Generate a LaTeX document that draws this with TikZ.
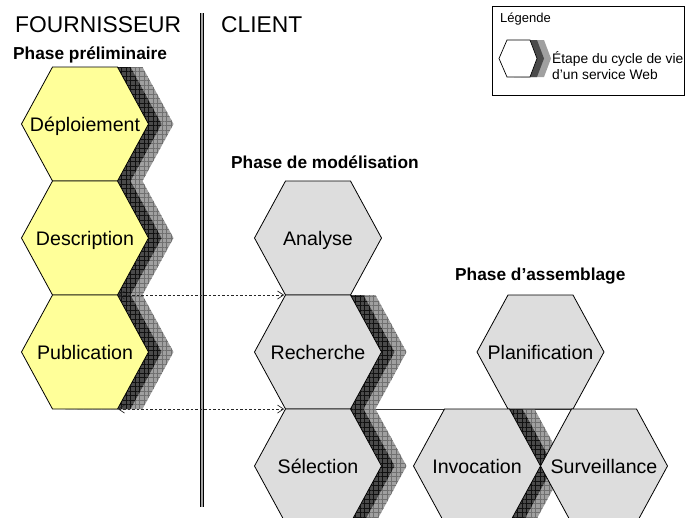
\documentclass[tikz,border=0pt]{standalone}
\usepackage{fontspec}
\setmainfont{Liberation Sans}
\usetikzlibrary{patterns.meta}
\definecolor{hexyellow}{HTML}{FFFF99}
\definecolor{hexgray}{HTML}{DDDDDD}
\definecolor{shdark}{HTML}{4A4A4A}
\definecolor{shdarkgrid}{HTML}{111111}
\definecolor{shlight}{HTML}{A0A0A0}
\definecolor{shlightgrid}{HTML}{707070}
\pgfdeclarelayer{background}
\pgfsetlayers{background,main}
% hexagon outline centred at (#1,#2)
\newcommand\hexpath[2]{(#1-63.5,#2) -- (#1-32.5,#2-57) -- (#1+32.5,#2-57) -- (#1+63.5,#2) -- (#1+32.5,#2+57) -- (#1-32.5,#2+57) -- cycle}
\newcommand\hexshadow[2]{%
  \path[shadowlight] \hexpath{#1+25}{#2};
  \path[shadowdark] \hexpath{#1+13}{#2};}
% style, name, x, y, label
\newcommand\hexnode[5]{%
  \draw[#1] \hexpath{#3}{#4};
  \node[hexlabel] (#2) at (#3,#4) {#5};
  \coordinate (#2-tl) at (#3-32.5,#4-57);
  \coordinate (#2-tr) at (#3+32.5,#4-57);
  \coordinate (#2-bl) at (#3-32.5,#4+57);
  \coordinate (#2-br) at (#3+32.5,#4+57);}
\begin{document}
\begin{tikzpicture}[x=1pt,y=-1pt,
  yellowhex/.style={draw=black,line width=0.8pt,fill=hexyellow,line join=miter},
  grayhex/.style={draw=black,line width=0.8pt,fill=hexgray,line join=miter},
  shadowdark/.style={fill=shdark,postaction={pattern={Hatch[distance=4.5pt,angle=0,line width=0.45pt]},pattern color=shdarkgrid}},
  shadowlight/.style={fill=shlight,postaction={pattern={Hatch[distance=4.5pt,angle=0,line width=0.45pt]},pattern color=shlightgrid}},
  hexlabel/.style={inner sep=0pt,text height=14pt,text depth=0pt,font=\fontsize{19.6}{22}\selectfont},
  phaselabel/.style={anchor=base west,inner sep=0pt,font=\fontsize{17.3}{20}\selectfont\bfseries},
  sidelabel/.style={anchor=base west,inner sep=0pt,font=\fontsize{22.8}{26}\selectfont},
  legendtext/.style={anchor=base west,inner sep=0pt,font=\fontsize{13.8}{16}\selectfont},
  dashline/.style={draw=black!85,line width=0.6pt,dash pattern=on 2.5pt off 2pt},
  tipline/.style={draw=black!85,line width=0.7pt,solid,line join=miter},
  thinline/.style={draw=black!80,line width=0.7pt}]
\useasboundingbox (0,0) rectangle (685,517);
\clip (0,0) rectangle (685,517);

% shadows
\hexshadow{85}{124}
\hexshadow{85}{238}
\hexshadow{85}{352}
\hexshadow{318}{352}
\hexshadow{318}{466}
\hexshadow{477}{466}

% hexagons
\hexnode{yellowhex}{depl}{85}{124}{Déploiement}
\hexnode{yellowhex}{desc}{85}{238}{Description}
\hexnode{yellowhex}{pub}{85}{352}{Publication}
\hexnode{grayhex}{ana}{318}{238}{Analyse}
\hexnode{grayhex}{rec}{318}{352}{Recherche}
\hexnode{grayhex}{sel}{318}{466}{Sélection}
\hexnode{grayhex}{plan}{540.5}{352}{Planification}
\hexnode{grayhex}{inv}{477}{466}{Invocation}
\hexnode{grayhex}{surv}{604}{466}{Surveillance}

\begin{pgfonlayer}{background}
  \draw[thinline] (rec-br) -- (surv-tr);
\end{pgfonlayer}

% divider
\coordinate (divtop) at (202,13);
\coordinate (divbot) at (202,507);
\draw[line width=0.9pt,double=black!35,double distance=1.6pt] (divtop) -- (divbot);

% exchanges (double-headed dashed arrows, open heads)
\coordinate (a1l) at ([shift={(1,0)}]pub-tr);
\coordinate (a1r) at ([shift={(-2,0)}]rec-tl);
\coordinate (a2l) at ([shift={(1,0)}]pub-br);
\coordinate (a2r) at ([shift={(-2,0)}]sel-tl);
\draw[dashline] (a1l) -- (a1r);
\draw[dashline] (a2l) -- (a2r);
\draw[tipline] ([shift={(-6,-4)}]a1r) -- (a1r) -- ([shift={(-6,4)}]a1r);
\draw[tipline] ([shift={(6,-4)}]a1l) -- (a1l) -- ([shift={(6,4)}]a1l);
\draw[tipline] ([shift={(-6,-4)}]a2r) -- (a2r) -- ([shift={(-6,4)}]a2r);
\draw[tipline] ([shift={(6,-4)}]a2l) -- (a2l) -- ([shift={(6,4)}]a2l);

% labels
\node[sidelabel] (four) at (15,32) {FOURNISSEUR};
\node[sidelabel] (cli) at (221,32) {CLIENT};
\node[phaselabel] (pprel) at (13,59.5) {Phase préliminaire};
\node[phaselabel] (pmod) at (231,168) {Phase de modélisation};
\node[phaselabel] (pass) at (455,280.5) {Phase d’assemblage};

% legend
\node[draw=black,line width=0.7pt,minimum width=192pt,minimum height=89pt,anchor=north west,inner sep=0pt] (legbox) at (491.5,5.5) {};
\node[legendtext,font=\fontsize{13}{15}\selectfont] (legtitle) at (500,22) {Légende};
\path[fill=shlight] (499+14,58.5) -- (507+14,40) -- (530+14,40) -- (537+14,58.5) -- (530+14,77) -- (507+14,77) -- cycle;
\path[fill=shdark] (499+7,58.5) -- (507+7,40) -- (530+7,40) -- (537+7,58.5) -- (530+7,77) -- (507+7,77) -- cycle;
\draw[fill=white,line width=0.7pt] (499,58.5) -- (507,40) -- (530,40) -- (537,58.5) -- (530,77) -- (507,77) -- cycle;
\node[legendtext] (leg1) at (552,63) {Étape du cycle de vie};
\node[legendtext] (leg2) at (552,79) {d’un service Web};
\end{tikzpicture}
\end{document}
